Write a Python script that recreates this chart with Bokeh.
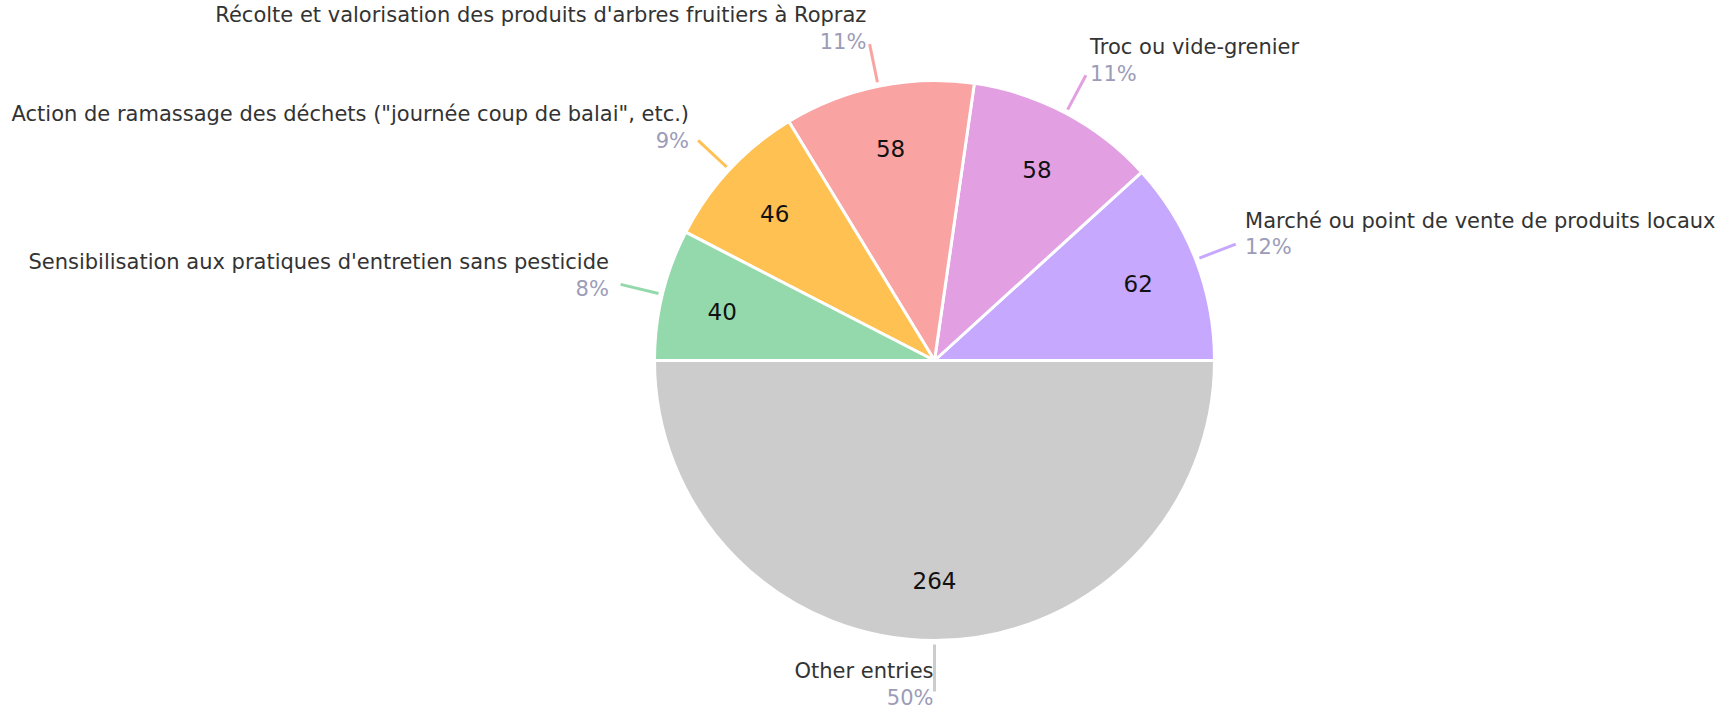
import math
from bokeh.plotting import figure
from bokeh.models import Range1d
from bokeh.core.properties import value
from bokeh.embed import file_html
from bokeh.resources import INLINE

categories = [
    "Marché ou point de vente de produits locaux",
    "Troc ou vide-grenier",
    "Récolte et valorisation des produits d'arbres fruitiers à Ropraz",
    "Action de ramassage des déchets (\"journée coup de balai\", etc.)",
    "Sensibilisation aux pratiques d'entretien sans pesticide",
    "Other entries",
]
counts = [62, 58, 58, 46, 40, 264]
colors = ["#c6a9fe", "#e2a0e3", "#faa3a3", "#fec152", "#94d9ab", "#cccccc"]

W, H = 1723, 709
FONT = "DejaVu Sans"
TITLE_COLOR = "#333333"
PCT_COLOR = "#9c9cb8"

def sx(x):  # screen x -> data x
    return x

def sy(y):  # screen y -> data y
    return H - y

cx, cy = sx(934), sy(360)
R = 280

p = figure(width=W, height=H, output_backend="svg", toolbar_location=None,
           x_range=Range1d(0, W), y_range=Range1d(0, H),
           min_border=0, outline_line_color=None)
p.axis.visible = False
p.grid.visible = False
p.background_fill_color = "white"
p.border_fill_color = "white"

total = sum(counts)
starts, ends, mids = [], [], []
acc = 0.0
for c in counts:
    a0 = acc / total * 2 * math.pi
    acc += c
    a1 = acc / total * 2 * math.pi
    starts.append(a0)
    ends.append(a1)
    mids.append((a0 + a1) / 2)

p.wedge(x=[cx] * len(counts), y=[cy] * len(counts), radius=R,
        start_angle=starts, end_angle=ends, direction="anticlock",
        fill_color=colors, line_color="white", line_width=3)

# values inside slices
vx = [cx + 0.78 * R * math.cos(m) for m in mids]
vy = [cy + 0.78 * R * math.sin(m) - 2 for m in mids]
p.text(x=vx, y=vy, text=[str(c) for c in counts], text_align="center",
       text_baseline="middle", text_font=value(FONT), text_font_size="23px",
       text_color="#111111")

# leaders and outer labels
for cat, c, m, col in zip(categories, counts, mids, colors):
    r1 = 284
    r2 = 323
    bottom = math.sin(m) < -0.9
    if bottom:
        r2 = 331
    x1, y1 = cx + r1 * math.cos(m), cy + r1 * math.sin(m)
    x2, y2 = cx + r2 * math.cos(m), cy + r2 * math.sin(m)
    p.line([x1, x2], [y1, y2], line_color=col, line_width=3)
    pct = f"{round(100 * c / total)}%"
    if bottom:
        tx = x2 - 1
        align = "right"
        base = sy(697)
    else:
        tx = x2 + 11 * math.cos(m) - 1
        align = "left" if math.cos(m) > 0 else "right"
        base = y2 - (6.5 - 9 * math.sin(m))
    p.text(x=[tx], y=[base], text=[pct], text_align=align,
           text_baseline="alphabetic", text_font=value(FONT),
           text_font_size="21px", text_color=PCT_COLOR)
    p.text(x=[tx], y=[base + 26.5], text=[cat], text_align=align,
           text_baseline="alphabetic", text_font=value(FONT),
           text_font_size="21px", text_color=TITLE_COLOR)

open("out.html", "w").write(file_html(p, INLINE))
